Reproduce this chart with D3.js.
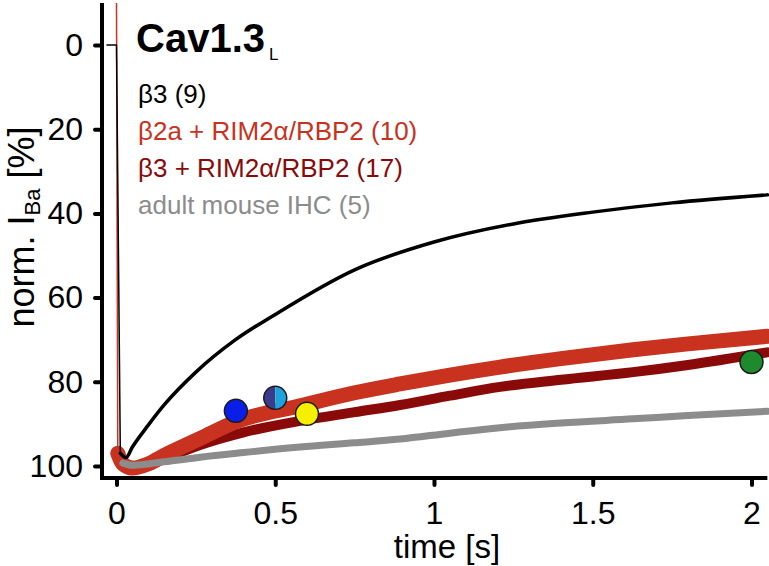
<!DOCTYPE html>
<html lang="en">
<head>
    <meta charset="UTF-8">
    <title>Cav1.3L inactivation</title>
    <script src="https://d3js.org/d3.v7.min.js"></script>
    <style>
        body { margin: 0; background: #fff; }
        svg { display: block; font-family: "Liberation Sans", Arial, sans-serif; }
        .tick text { font-size: 32px; fill: #000; }
        .tick line { stroke: #000; stroke-width: 4; stroke-linecap: round; }
    </style>
</head>
<body>
    <div id="chart"></div>
    <script>
        // values (time in s, current in % of peak)
        const xTicks = [0, 0.5, 1, 1.5, 2];
        const yTicks = [0, 20, 40, 60, 80, 100];

        const legendLabels = ["β3 (9)", "β2a + RIM2α/RBP2 (10)", "β3 + RIM2α/RBP2 (17)", "adult mouse IHC (5)"];
        const legendColors = ["#000000", "#c8321e", "#8a0a0a", "#8c8c8c"];

        // onset parts (thin lines)
        const b3OnsetT = [-0.03, -0.002, 0.0, 0.012];
        const b3OnsetV = [0, 0, 0, 97];
        const b2aOnsetT = [0.0, 0.004];
        const b2aOnsetV = [-10, 97];

        // decaying parts
        const b3T = [0.012, 0.03, 0.05, 0.1, 0.15, 0.25, 0.375, 0.5, 0.75, 1, 1.25, 1.5, 1.75, 2.05];
        const b3V = [97, 98, 95.5, 90.3, 85.5, 77.7, 70, 64, 53.4, 46.8, 42.5, 39.7, 37.5, 35.6];

        const b2aT = [0.004, 0.02, 0.05, 0.1, 0.15, 0.263, 0.376, 0.578, 0.75, 0.893, 1.05, 1.208, 1.4, 1.627, 1.8, 2.05];
        const b2aV = [97, 99.5, 100.5, 99.5, 97.5, 93.5, 89.5, 85.7, 82.6, 80.5, 78.4, 76.5, 74.5, 72.4, 71, 69.2];

        const b3RimT = [0.02, 0.05, 0.1, 0.15, 0.263, 0.4, 0.578, 0.75, 0.893, 1.05, 1.208, 1.4, 1.627, 1.8, 2.05];
        const b3RimV = [99.5, 100.5, 99.8, 98.3, 95, 92, 89.3, 87.2, 85.5, 83.3, 81.2, 79.5, 77.7, 76, 73];

        const ihcT = [0.02, 0.05, 0.1, 0.15, 0.263, 0.4, 0.578, 0.75, 0.893, 1.05, 1.208, 1.4, 1.627, 1.8, 2.05];
        const ihcV = [99.3, 99.8, 99.5, 99, 97.9, 96.8, 95.5, 94.5, 93.6, 92.2, 90.9, 89.8, 88.8, 88, 87];

        // coloured markers
        const dotT = [0.376, 0.5, 0.6, 2.0];
        const dotV = [86.9, 83.8, 87.6, 75.3];
        const dotColors = ["#0a1ee8", null, "#f5f000", "#1e8a2e"];

        const width = 769, height = 566;

        const svg = d3.select("#chart")
            .append("svg")
            .attr("width", width)
            .attr("height", height);

        const x = d3.scaleLinear().domain([0, 2]).range([116.5, 751.5]);
        const y = d3.scaleLinear().domain([0, 100]).range([45, 466]);

        const zip = (ts, vs) => ts.map((t, i) => [t, vs[i]]);

        const smooth = d3.line()
            .x(d => x(d[0]))
            .y(d => y(d[1]))
            .curve(d3.curveMonotoneX);

        const straight = d3.line()
            .x(d => x(d[0]))
            .y(d => y(d[1]));

        const plot = svg.append("g")
            .attr("fill", "none")
            .attr("stroke-linejoin", "round")
            .attr("stroke-linecap", "round");

        // bands
        plot.append("path").attr("d", smooth(zip(b3RimT, b3RimV)))
            .attr("stroke", "#8a0a0a").attr("stroke-width", 10);
        plot.append("path").attr("d", straight(zip(b2aOnsetT, b2aOnsetV)))
            .attr("stroke", "#d0301c").attr("stroke-width", 1.5).attr("stroke-linecap", "butt");
        plot.append("path").attr("d", smooth(zip(b2aT, b2aV)))
            .attr("stroke", "#c8321e").attr("stroke-width", 15);
        plot.append("path").attr("d", smooth(zip(ihcT, ihcV)))
            .attr("stroke", "#8c8c8c").attr("stroke-width", 7);
        plot.append("path").attr("d", straight(zip(b3OnsetT, b3OnsetV)))
            .attr("stroke", "#000").attr("stroke-width", 1.5);
        plot.append("path").attr("d", smooth(zip(b3T, b3V)))
            .attr("stroke", "#000").attr("stroke-width", 3.5);

        // markers
        const r = 11.5;
        const dots = svg.append("g");
        dotT.forEach((t, i) => {
            const g = dots.append("g").attr("transform", `translate(${x(t)},${y(dotV[i])})`);
            if (dotColors[i]) {
                g.append("circle").attr("r", r).attr("fill", dotColors[i])
                    .attr("stroke", "#1a1a1a").attr("stroke-width", 1.5);
            } else {
                const arc = d3.arc().innerRadius(0).outerRadius(r);
                g.append("path").attr("d", arc({startAngle: Math.PI, endAngle: 2 * Math.PI})).attr("fill", "#3a3d8c");
                g.append("path").attr("d", arc({startAngle: 0, endAngle: Math.PI})).attr("fill", "#1ea3dc");
                g.append("circle").attr("r", r).attr("fill", "none")
                    .attr("stroke", "#1a1a1a").attr("stroke-width", 1.5);
            }
        });

        // axes
        const x0 = 102, yBase = 478;

        svg.append("line")
            .attr("x1", x0).attr("x2", x0)
            .attr("y1", y(-10)).attr("y2", yBase + 2)
            .attr("stroke", "#000").attr("stroke-width", 4);
        svg.append("line")
            .attr("x1", x0 - 2).attr("x2", x(2.05))
            .attr("y1", yBase).attr("y2", yBase)
            .attr("stroke", "#000").attr("stroke-width", 4);

        const yAxis = svg.append("g")
            .attr("transform", `translate(${x0},0)`)
            .call(d3.axisLeft(y).tickValues(yTicks).tickSize(7).tickPadding(12).tickFormat(d => String(d)));
        yAxis.select(".domain").remove();

        const xAxis = svg.append("g")
            .attr("transform", `translate(0,${yBase})`)
            .call(d3.axisBottom(x).tickValues(xTicks).tickSize(7).tickPadding(16).tickFormat(d => String(d)));
        xAxis.select(".domain").remove();

        svg.selectAll(".tick text").attr("font-family", null).attr("font-size", null);

        // axis titles
        svg.append("text")
            .attr("x", 447).attr("y", 558)
            .attr("text-anchor", "middle")
            .attr("font-size", 33)
            .text("time [s]");

        const yTitle = svg.append("text")
            .attr("transform", "translate(34,227) rotate(-90)")
            .attr("text-anchor", "middle")
            .attr("font-size", 36);
        yTitle.append("tspan").text("norm. I");
        yTitle.append("tspan").attr("font-size", 22).attr("dy", 6).text("Ba");
        yTitle.append("tspan").attr("dy", -6).text(" [%]");

        // title
        const title = svg.append("text")
            .attr("x", 136).attr("y", 52)
            .attr("font-size", 40)
            .attr("font-weight", "bold");
        title.append("tspan").text("Cav1.3");
        title.append("tspan").attr("font-size", 17).attr("font-weight", "normal")
            .attr("dx", 4).attr("dy", 8).text("L");

        // legend
        svg.append("g").selectAll("text")
            .data(legendLabels)
            .join("text")
            .attr("x", 138)
            .attr("y", (d, i) => 103 + i * 37)
            .attr("font-size", 26)
            .attr("fill", (d, i) => legendColors[i])
            .text(d => d);
    </script>
</body>
</html>
